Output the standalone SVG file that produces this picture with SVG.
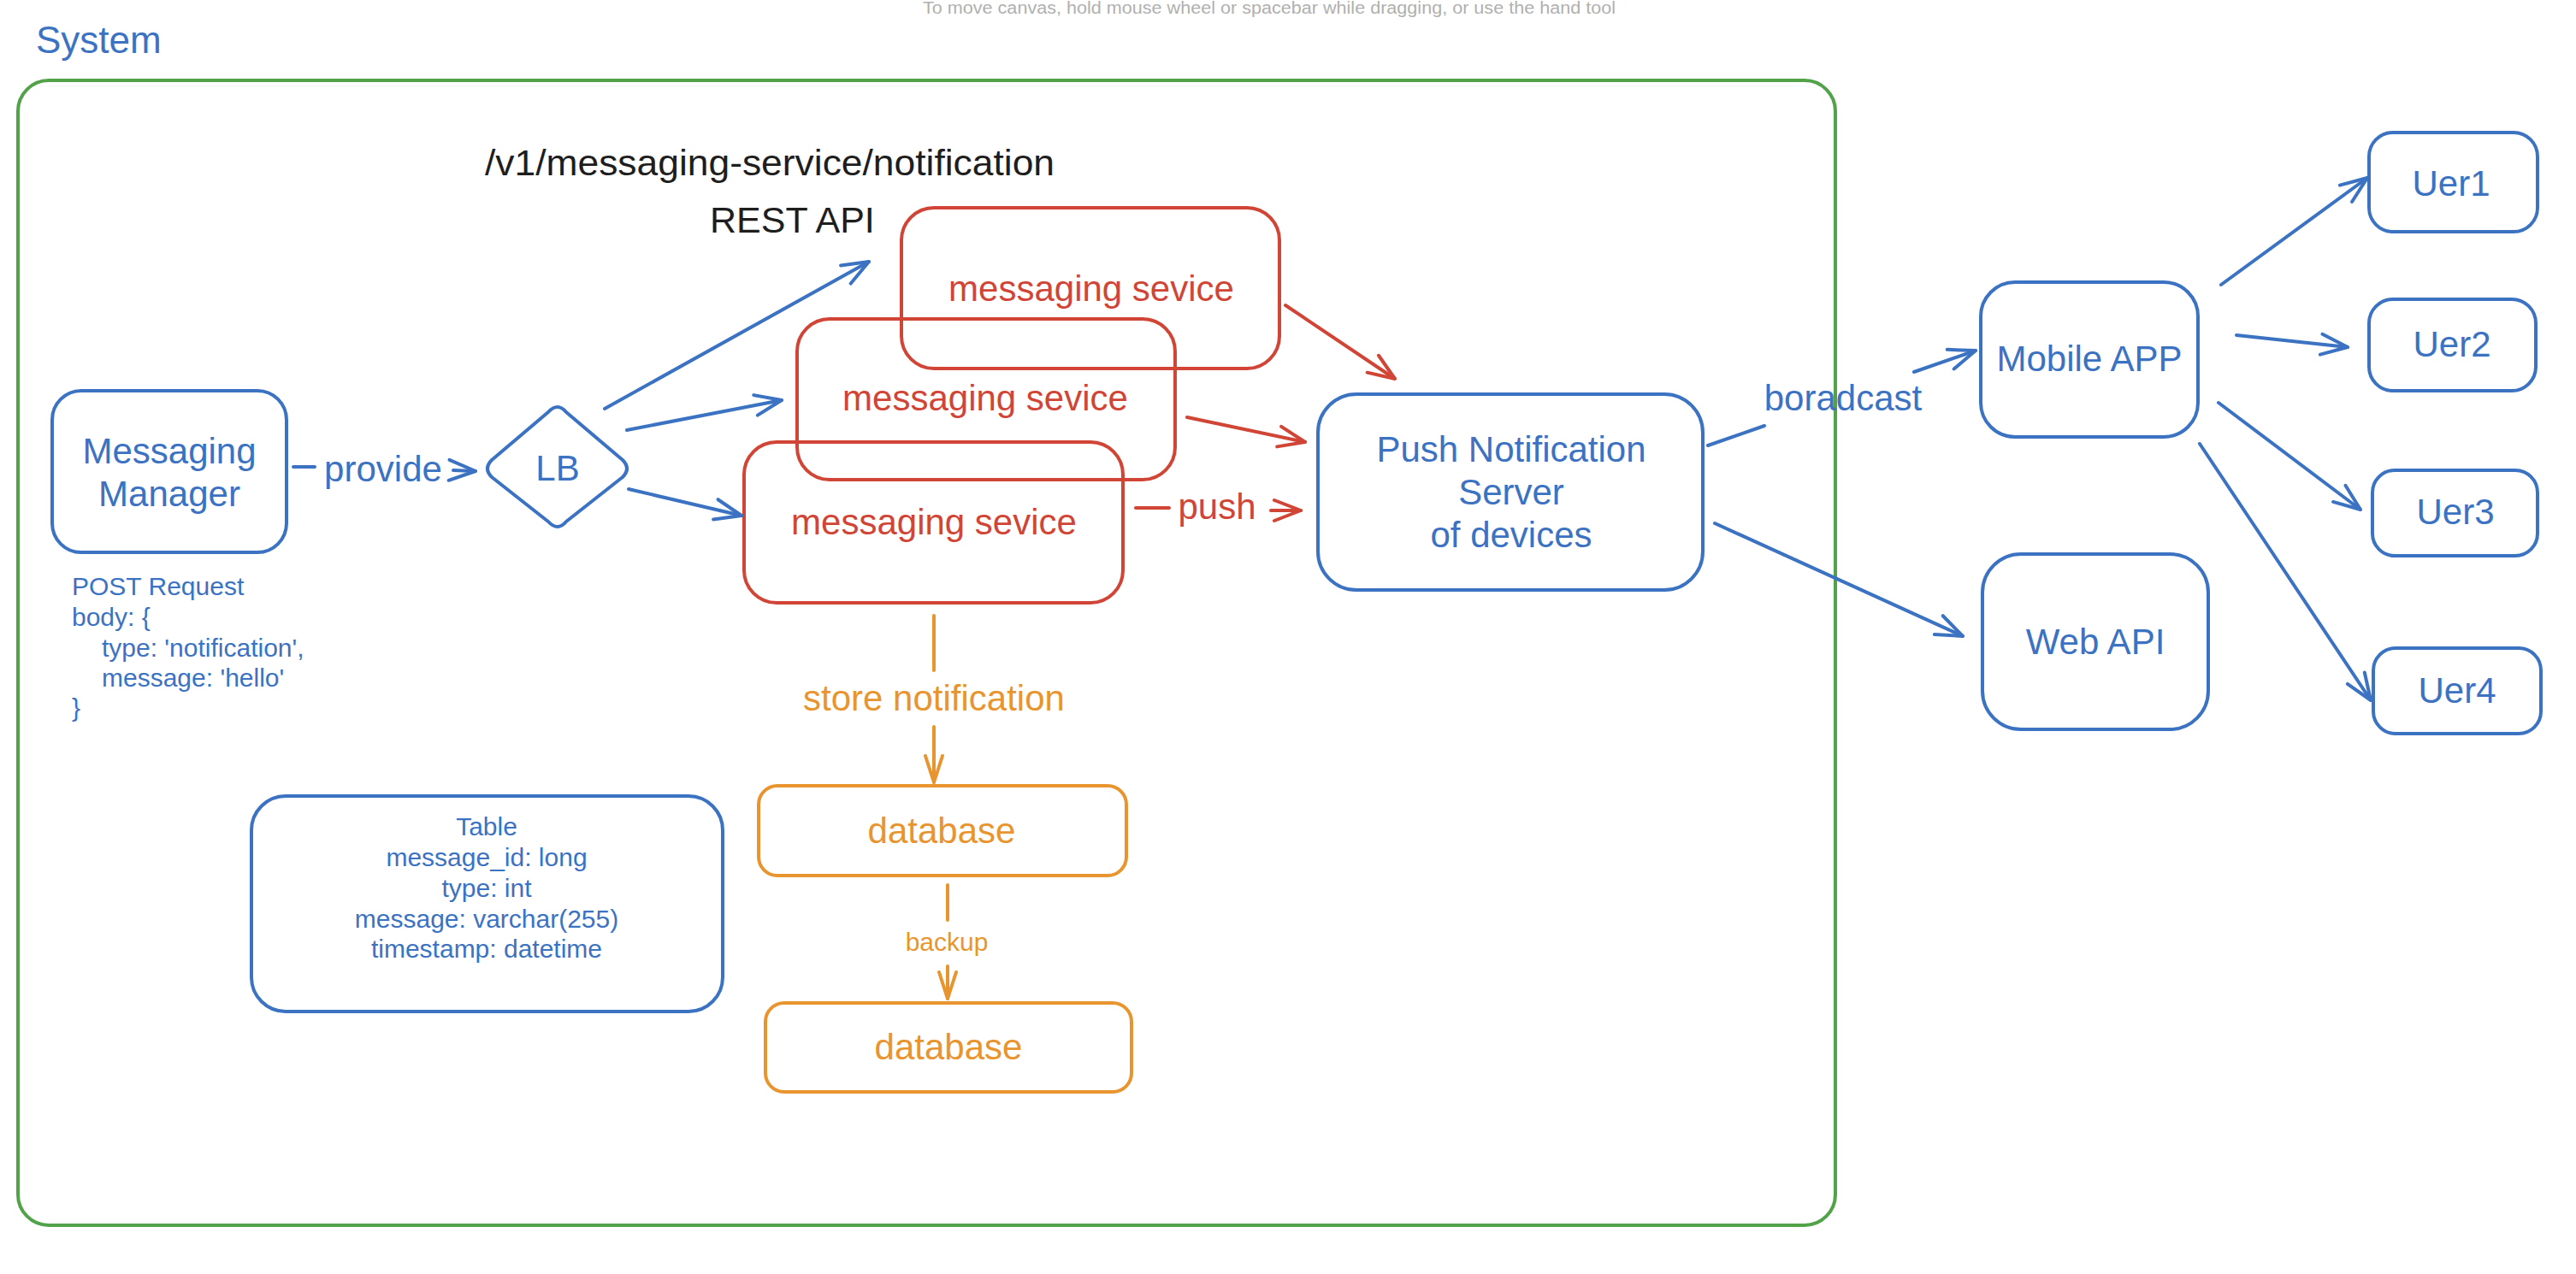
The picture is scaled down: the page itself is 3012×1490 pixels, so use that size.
<svg xmlns="http://www.w3.org/2000/svg" width="3012" height="1490" viewBox="0 0 3012 1490">
<style>
text{font-family:"Liberation Sans",Arial,Helvetica,sans-serif}
.b{stroke:#3b72c2;fill:none;stroke-width:4;stroke-linecap:round;stroke-linejoin:round}
.r{stroke:#d04536;fill:none;stroke-width:4;stroke-linecap:round;stroke-linejoin:round}
.o{stroke:#e8952f;fill:none;stroke-width:4;stroke-linecap:round;stroke-linejoin:round}
.g{stroke:#52a24a;fill:none;stroke-width:4}
.tb{fill:#3b72c2;font-size:42px;text-anchor:middle}
.tr{fill:#d04536;font-size:42px;text-anchor:middle}
.to{fill:#e8952f;font-size:42px;text-anchor:middle}
.tk{fill:#1e1e1e;font-size:43px}
.sm{font-size:30px}
</style>
<defs>
<marker id="ab" viewBox="0 0 36 30" refX="34" refY="15" markerWidth="36" markerHeight="30" markerUnits="userSpaceOnUse" orient="auto"><path d="M3,3 L34,15 L3,27" fill="none" stroke="#3b72c2" stroke-width="4" stroke-linecap="round" stroke-linejoin="round"/></marker>
<marker id="ar" viewBox="0 0 36 30" refX="34" refY="15" markerWidth="36" markerHeight="30" markerUnits="userSpaceOnUse" orient="auto"><path d="M3,3 L34,15 L3,27" fill="none" stroke="#d04536" stroke-width="4" stroke-linecap="round" stroke-linejoin="round"/></marker>
<marker id="ao" viewBox="0 0 36 30" refX="34" refY="15" markerWidth="36" markerHeight="30" markerUnits="userSpaceOnUse" orient="auto"><path d="M3,5 L34,15 L3,25" fill="none" stroke="#e8952f" stroke-width="4" stroke-linecap="round" stroke-linejoin="round"/></marker>
</defs>
<rect width="3012" height="1490" fill="#ffffff"/>
<text x="1079" y="16" font-size="20" fill="#b0b0b0" textLength="810" lengthAdjust="spacingAndGlyphs">To move canvas, hold mouse wheel or spacebar while dragging, or use the hand tool</text>
<g id="system">
<text x="42" y="62" font-size="44" fill="#3b72c2">System</text>
<rect class="g" x="21" y="94" width="2125" height="1339" rx="36"/>
</g>
<g id="labels">
<text class="tk" x="567" y="205" textLength="666" lengthAdjust="spacingAndGlyphs">/v1/messaging-service/notification</text>
<text class="tk" x="830" y="272" font-size="42">REST API</text>
</g>
<g id="messaging-manager">
<rect class="b" x="61" y="457" width="274" height="189" rx="34"/>
<text class="tb" x="198" y="542" font-size="43">Messaging</text>
<text class="tb" x="198" y="592" font-size="43">Manager</text>
</g>
<g id="post-request">
<text x="84" y="696" fill="#3b72c2" font-size="30">POST Request</text>
<text x="84" y="732" fill="#3b72c2" font-size="30">body: {</text>
<text x="119" y="768" fill="#3b72c2" font-size="30">type: 'notification',</text>
<text x="119" y="803" fill="#3b72c2" font-size="30">message: 'hello'</text>
<text x="84" y="838" fill="#3b72c2" font-size="30">}</text>
</g>
<g id="lb">
<path class="b" d="M641,482 Q652,470 662,482 L728,538 Q738,548 728,558 L662,610 Q652,622 641,610 L575,558 Q565,548 575,538 Z"/>
<text class="tb" x="652" y="562">LB</text>
</g>
<g id="ms-top">
<rect class="r" x="1054" y="243" width="442" height="188" rx="38"/>
<text class="tr" x="1276" y="352">messaging sevice</text>
</g>
<g id="ms-mid">
<rect class="r" x="932" y="373" width="442" height="188" rx="38"/>
<text class="tr" x="1152" y="480">messaging sevice</text>
</g>
<g id="ms-bot">
<rect class="r" x="870" y="517" width="443" height="188" rx="38"/>
<text class="tr" x="1092" y="625">messaging sevice</text>
</g>
<g id="push-server">
<rect class="b" x="1541" y="461" width="450" height="229" rx="45"/>
<text class="tb" x="1767" y="540" font-size="43">Push Notification</text>
<text class="tb" x="1767" y="590" font-size="43">Server</text>
<text class="tb" x="1767" y="640" font-size="43">of devices</text>
</g>
<g id="mobile-app">
<rect class="b" x="2316" y="330" width="254" height="181" rx="40"/>
<text class="tb" x="2443" y="434" font-size="43">Mobile APP</text>
</g>
<g id="web-api">
<rect class="b" x="2318" y="648" width="264" height="205" rx="45"/>
<text class="tb" x="2450" y="765" font-size="43">Web API</text>
</g>
<g id="uer1">
<rect class="b" x="2770" y="155" width="197" height="116" rx="28"/>
<text class="tb" x="2866" y="229">Uer1</text>
</g>
<g id="uer2">
<rect class="b" x="2770" y="350" width="195" height="107" rx="28"/>
<text class="tb" x="2867" y="417">Uer2</text>
</g>
<g id="uer3">
<rect class="b" x="2774" y="550" width="193" height="100" rx="26"/>
<text class="tb" x="2871" y="613">Uer3</text>
</g>
<g id="uer4">
<rect class="b" x="2775" y="758" width="196" height="100" rx="26"/>
<text class="tb" x="2873" y="822">Uer4</text>
</g>
<g id="database1">
<rect class="o" x="887" y="919" width="430" height="105" rx="22"/>
<text class="to" x="1101" y="986">database</text>
</g>
<g id="database2">
<rect class="o" x="895" y="1173" width="428" height="104" rx="22"/>
<text class="to" x="1109" y="1239">database</text>
</g>
<g id="table">
<rect class="b" x="294" y="931" width="551" height="252" rx="40"/>
<text class="tb sm" x="569" y="977">Table</text>
<text class="tb sm" x="569" y="1013">message_id: long</text>
<text class="tb sm" x="569" y="1049">type: int</text>
<text class="tb sm" x="569" y="1085">message: varchar(255)</text>
<text class="tb sm" x="569" y="1120">timestamp: datetime</text>
</g>
<g id="connectors">
<path class="b" d="M343,546 L368,546"/>
<path class="b" d="M530,550 L556,551" marker-end="url(#ab)"/>
<text class="tb" x="448" y="563">provide</text>
<path class="b" d="M707,478 L1016,306" marker-end="url(#ab)"/>
<path class="b" d="M733,503 L914,468" marker-end="url(#ab)"/>
<path class="b" d="M735,572 L867,603" marker-end="url(#ab)"/>
<path class="r" d="M1503,357 L1631,443" marker-end="url(#ar)"/>
<path class="r" d="M1388,488 L1526,517" marker-end="url(#ar)"/>
<path class="r" d="M1328,594 L1367,594"/>
<path class="r" d="M1486,597 L1521,597" marker-end="url(#ar)"/>
<text class="tr" x="1423" y="607">push</text>
<path class="b" d="M1997,521 L2063,498"/>
<path class="b" d="M2238,435 L2310,410" marker-end="url(#ab)"/>
<text class="tb" x="2155" y="480">boradcast</text>
<path class="b" d="M2005,612 L2295,744" marker-end="url(#ab)"/>
<path class="b" d="M2597,333 L2768,208" marker-end="url(#ab)"/>
<path class="b" d="M2615,392 L2745,406" marker-end="url(#ab)"/>
<path class="b" d="M2594,471 L2760,596" marker-end="url(#ab)"/>
<path class="b" d="M2572,519 L2772,819" marker-end="url(#ab)"/>
<path class="o" d="M1092,720 L1092,784"/>
<path class="o" d="M1092,850 L1092,915" marker-end="url(#ao)"/>
<text class="to" x="1092" y="831">store notification</text>
<path class="o" d="M1108,1035 L1108,1076"/>
<path class="o" d="M1108,1130 L1108,1168" marker-end="url(#ao)"/>
<text class="to sm" x="1107" y="1112">backup</text>
</g>
</svg>
